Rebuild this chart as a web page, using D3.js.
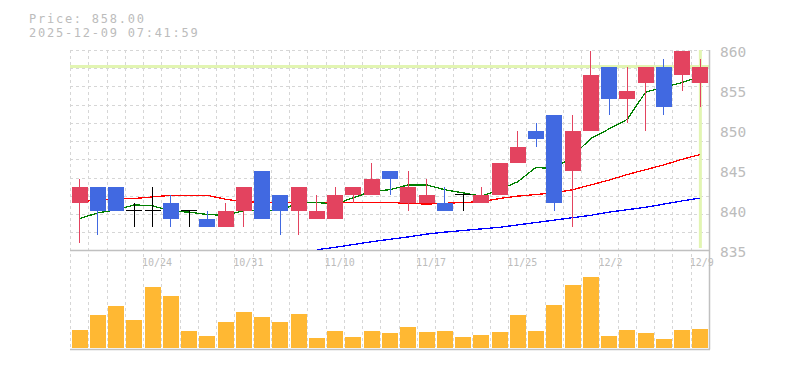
<!DOCTYPE html>
<html><head><meta charset="utf-8">
<script src="https://cdn.jsdelivr.net/npm/d3@7"></script>
<style>
html,body{margin:0;padding:0;background:#fff;}
svg{display:block;}
text{font-family:"DejaVu Sans Mono",monospace;fill:#bcbcbc;}
</style></head>
<body><svg id="c" width="785" height="370"></svg>
<script>
const dates = ["10/20","10/21","10/22","10/23","10/24","10/27","10/28","10/29","10/30","10/31","11/4","11/5","11/6","11/7","11/10","11/11","11/12","11/13","11/14","11/17","11/18","11/19","11/20","11/21","11/25","11/26","11/27","11/28","12/1","12/2","12/3","12/4","12/5","12/8","12/9"];
const open  = [841,843,843,840,840,841,840,839,838,840,845,842,840,839,839,842,842,845,841,841,841,842,841,842,846,850,852,845,850,858,854,856,858,857,856];
const close = [843,840,840,840,840,839,840,838,840,843,839,840,843,840,842,843,844,844,843,842,840,842,842,846,848,849,841,850,857,854,855,858,853,860,858];
const high  = [844,843,843,841,843,842,840,840,841,843,845,842,843,842,843,843,846,845,845,844,843,842,843,846,850,851,852,852,860,858,858,858,859,860,859];
const low   = [836,837,840,838,838,838,838,838,838,838,839,837,837,839,839,841,842,842,840,841,840,840,841,842,846,848,840,838,850,852,851,850,852,855,853];
const volume = [90,165,210,140,305,260,85,60,130,180,155,130,170,50,85,55,85,75,105,80,85,55,65,80,165,85,215,315,355,60,90,75,45,90,95];
const ma5  = [839.0,839.7,840.1,840.7,840.6,839.9,839.8,839.5,839.4,840.0,840.0,840.0,841.0,841.0,840.8,841.6,842.4,842.6,843.2,843.2,842.6,842.2,841.8,842.6,843.6,845.4,845.2,846.8,849.0,850.2,851.4,854.8,855.4,856.0,856.8];
const ma25 = [841.1,841.3,841.5,841.5,841.7,841.9,841.9,841.9,841.4,841.1,841.0,841.0,841.0,841.0,841.0,841.0,841.0,841.0,840.9,840.8,840.9,841.0,841.1,841.5,841.8,842.0,842.2,842.6,843.2,843.8,844.5,845.1,845.7,846.4,847.0];
const ma75 = [null,null,null,null,null,null,null,null,null,null,null,null,null,835.1,835.4,835.75,836.1,836.4,836.7,837.05,837.3,837.5,837.7,837.9,838.2,838.5,838.8,839.1,839.4,839.8,840.1,840.4,840.8,841.2,841.55];
const priceTicks = [835,840,845,850,855,860];
const dateTickIdx = [4,9,14,19,24,29,34];
const currentPrice = 858;
const titleLines = ["Price: 858.00","2025-12-09 07:41:59"];

const svg = d3.select("#c");
const L = 70, R = 709, PT = 50.5, PB = 250.5, VB = 348, VT = 252, VBot = 349.5;
const x = d3.scaleBand().domain(dates).range([L, R]).padding(0);
const step = x.step();
const barW = 16;
const cx = d => x(d) + (step - barW)/2 + 0.5 + barW/2;
const y = d3.scaleLinear().domain([835, 860]).range([PB, PT]);
const yv = d3.scaleLinear().domain([0, 480]).range([VB, VT]);

const UP = "#e3435f", DOWN = "#4169e1", FLAT = "#000000";
const grid = "#d6d6d6", border = "#c0c0c0", hl = "#e2f5b2";

// title
svg.selectAll("text.title").data(titleLines).enter().append("text")
  .attr("x", 29).attr("y", (d,i) => 22.5 + i*14).attr("font-size", "12px")
  .attr("letter-spacing", "1.75px").text(d => d);

// grids
const gg = svg.append("g").attr("stroke", grid).attr("stroke-dasharray", "3,3").attr("shape-rendering","crispEdges");
d3.range(11).forEach(k => {
  const yy = Math.round(50 + k*(PB-50)/11) + 0.5;
  gg.append("line").attr("x1", L).attr("x2", R).attr("y1", yy).attr("y2", yy);
});
dates.forEach(d => {
  const xx = Math.round(x(d)) + 0.5;
  gg.append("line").attr("x1", xx).attr("x2", xx).attr("y1", 50).attr("y2", VBot);
});

// highlight lines
svg.append("line").attr("x1", L).attr("x2", R).attr("y1", y(currentPrice)).attr("y2", y(currentPrice))
  .attr("stroke", hl).attr("stroke-width", 3);
svg.append("line").attr("x1", cx(dates[dates.length-1])).attr("x2", cx(dates[dates.length-1]))
  .attr("y1", 50).attr("y2", 248).attr("stroke", hl).attr("stroke-width", 3);

// borders
svg.append("line").attr("x1", L).attr("x2", R+1).attr("y1", 250.5).attr("y2", 250.5).attr("stroke", border).attr("stroke-width", 1.5);
svg.append("line").attr("x1", L).attr("x2", R+1).attr("y1", VBot).attr("y2", VBot).attr("stroke", border).attr("stroke-width", 1.5);
svg.append("line").attr("x1", R+0.5).attr("x2", R+0.5).attr("y1", 50).attr("y2", VBot).attr("stroke", border).attr("stroke-width", 1.5);

// clip
svg.append("clipPath").attr("id","pc").append("rect").attr("x", L).attr("y", PT-1).attr("width", R-L).attr("height", PB-PT+1);

// MA lines
const mk = arr => d3.line().defined(d => d != null).x((d,i) => cx(dates[i])).y(d => y(d))(arr);
const mg = svg.append("g").attr("clip-path","url(#pc)").attr("fill","none").attr("shape-rendering","crispEdges");
[[ma75,"#0000ff"],[ma25,"#ff0000"],[ma5,"#008000"]].forEach(([a,c]) => {
  mg.append("path").attr("d", mk(a)).attr("stroke", c).attr("stroke-width", 1.3);
});

// candles
const data = dates.map((d,i) => ({d, o:open[i], c:close[i], h:high[i], l:low[i], v:volume[i]}));
const col = k => k.c > k.o ? UP : (k.c < k.o ? DOWN : FLAT);
const cg = svg.append("g").attr("shape-rendering","crispEdges");
cg.selectAll("line.w").data(data).enter().append("line")
  .attr("x1", k => Math.floor(cx(k.d)) + 0.5).attr("x2", k => Math.floor(cx(k.d)) + 0.5)
  .attr("y1", k => y(k.h)).attr("y2", k => y(k.l)).attr("stroke", col).attr("stroke-width", 1.2);
cg.selectAll("rect.b").data(data).enter().append("rect")
  .attr("x", k => cx(k.d) - barW/2).attr("width", barW)
  .attr("y", k => k.o === k.c ? y(k.o) - 0.75 : y(Math.max(k.o,k.c)))
  .attr("height", k => k.o === k.c ? 1.5 : Math.abs(y(k.o) - y(k.c)))
  .attr("fill", col);

// volume
svg.append("g").attr("shape-rendering","crispEdges").selectAll("rect").data(data).enter().append("rect")
  .attr("x", k => cx(k.d) - barW/2).attr("width", barW)
  .attr("y", k => yv(k.v)).attr("height", k => VB - yv(k.v)).attr("fill", "#ffb833");

// price labels
svg.selectAll("text.p").data(priceTicks).enter().append("text")
  .attr("x", 720).attr("y", d => y(d) + 1.5).attr("dominant-baseline","central")
  .attr("font-size","14.5px").text(d => d);

// date labels
svg.selectAll("text.d").data(dateTickIdx).enter().append("text")
  .attr("x", i => x(dates[i]) - 1).attr("y", 266).attr("font-size","10px").attr("fill","#b8b8b8")
  .text(i => dates[i]);
</script></body></html>
